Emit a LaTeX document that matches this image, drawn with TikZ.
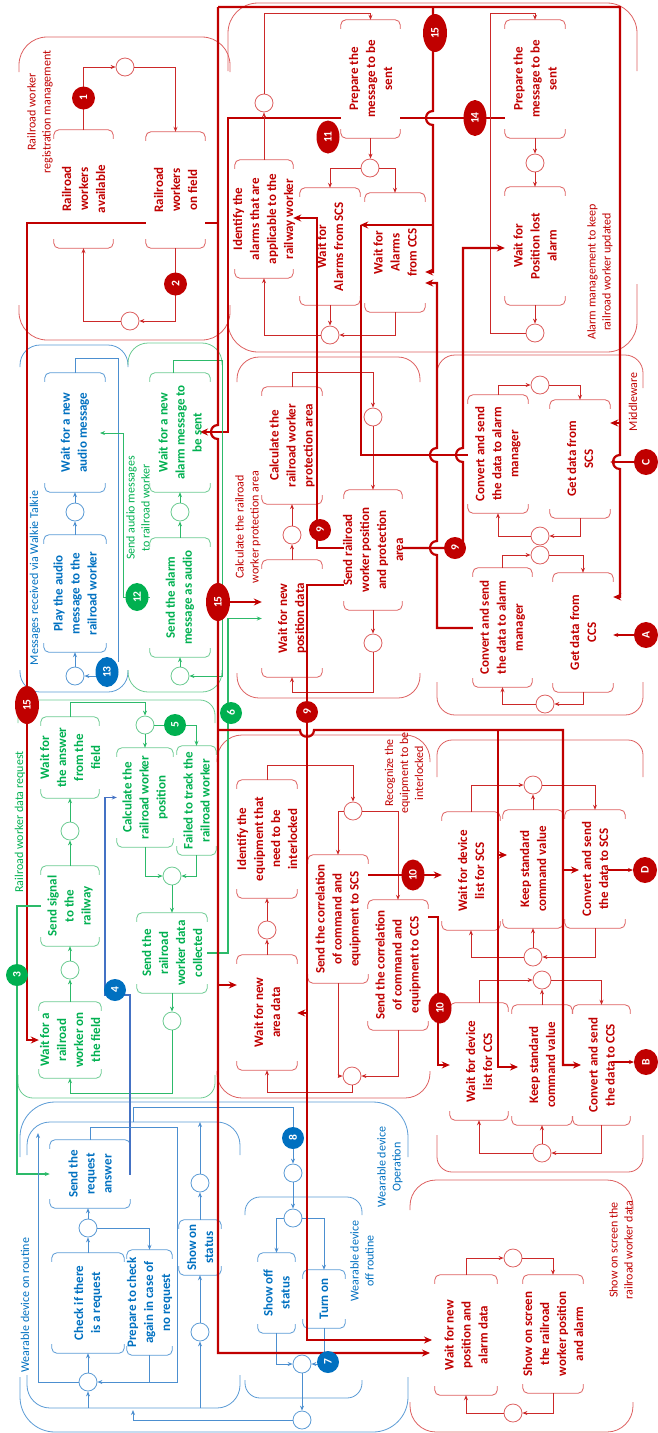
\documentclass[tikz,border=0pt]{standalone}
\usepackage{fontspec}
\setmainfont{Carlito}
\usetikzlibrary{arrows.meta,fit,shapes.geometric}
\pgfdeclarelayer{bg}
\pgfsetlayers{bg,main}
\definecolor{rT}{HTML}{C00000}
\definecolor{rL}{HTML}{CC2929}
\definecolor{rB}{HTML}{DD6060}
\definecolor{gT}{HTML}{00B050}
\definecolor{gL}{HTML}{2DBA6A}
\definecolor{gB}{HTML}{6CCB92}
\definecolor{bT}{HTML}{0070C0}
\definecolor{bL}{HTML}{4C8FD0}
\definecolor{bB}{HTML}{5B9BD5}
\definecolor{bD}{HTML}{4472C4}
\newcommand\bxfont{\fontsize{13}{17}\selectfont\bfseries}
\newcommand\lblfont{\fontsize{12}{15}\selectfont}
\newcommand\bdgfont{\fontsize{11.5}{12}\selectfont\bfseries}
\tikzset{
 thk/.style={draw=rT, line width=2.2pt},
 ta/.style={-{Stealth[length=8pt,width=7pt]}},
 cr/.style={draw=rL, line width=0.8pt},
 cg/.style={draw=gL, line width=0.8pt},
 cb/.style={draw=bL, line width=0.8pt},
 cbd/.style={draw=bD, line width=1.3pt},
 ca/.style={draw=rT, line width=1.2pt},
 >={Stealth[length=5pt,width=4pt]},
 place/.style={circle, draw=#1, fill=white, line width=0.8pt, minimum size=18pt, inner sep=0pt},
 lbl/.style={rotate=90, align=center, font=\lblfont, text=#1},
}
\newcommand\grp[7]{%
 \draw[#7, line width=0.8pt, rounded corners=#5pt] (#1,#2+#6) -- (#1,#2) -- (#3,#2) -- (#3,#2+#6);
 \draw[#7, line width=0.8pt, rounded corners=#5pt] (#1,#4-#6) -- (#1,#4) -- (#3,#4) -- (#3,#4-#6);}
\newcommand\bx[8][none]{%
 \node[fit={(#3,#4) (#5,#6)}, inner sep=0pt, fill=#1] (#2) {};
 \node[rotate=90, align=center, font=\bxfont, text=#7T, inner sep=0pt] (#2-t) at (#2.center) {#8};
 \draw[#7B, line width=0.8pt, rounded corners=5pt] ([yshift=-9pt]#2.north west) |- (#2.north east) -- ([yshift=-9pt]#2.north east);
 \draw[#7B, line width=0.8pt, rounded corners=5pt] ([yshift=9pt]#2.south west) |- (#2.south east) -- ([yshift=9pt]#2.south east);}
\newcommand\bdg[7]{%
 \node[ellipse, fill=#4, minimum width=#6pt, minimum height=#5pt, inner sep=0pt, text=white, font=\bdgfont, rotate=90] (#1) at (#2,#3) {#7};}
\begin{document}
\begin{tikzpicture}[x=1pt,y=-1pt]
\useasboundingbox (0,0) rectangle (657,1433);
\begin{pgfonlayer}{bg}
\grp{19}{37}{230}{340}{28}{35}{rB}
\grp{228}{3}{637}{352}{30}{68}{rB}
\grp{20}{345}{128}{692}{20}{22}{bB}
\grp{128}{343}{222}{692}{20}{22}{gB}
\grp{237}{357}{420}{698}{22}{25}{rB}
\grp{437}{355}{643}{715}{18}{33}{rB}
\grp{18}{700}{215}{1098}{15}{23}{gB}
\grp{217}{735}{430}{1098}{25}{27}{rB}
\grp{437}{740}{643}{1172}{15}{37}{rB}
\grp{20}{1102}{408}{1432}{35}{55}{bB}
\grp{27}{1122}{240}{1408}{23}{33}{bB}
\grp{245}{1197}{362}{1398}{15}{18}{bB}
\grp{410}{1180}{633}{1432}{26}{30}{rB}
\end{pgfonlayer}
% labels
\node[lbl=rT] (lreg) at (40,112) {Railroad worker\\registration management};
\node[lbl=rT] (lalarm) at (600,272) {Alarm management to keep\\railroad worker updated};
\node[lbl=bT] (lwalk) at (35,578) {Messages received via Walkie Talkie};
\node[lbl=gT] (laud) at (138,508) {Send audio messages\\to railroad worker};
\node[lbl=rT] (lcalc) at (248,527) {Calculate the railroad\\worker protection area};
\node[lbl=rT] (lmid) at (633,402) {Middleware};
\node[lbl=gT] (lreq) at (20,822) {Railroad worker data request};
\node[lbl=rT] (lrec) at (404,773) {Recognize the\\equipment to be\\interlocked};
\node[lbl=bT] (lrout) at (25,1305) {Wearable device on routine};
\node[lbl=bT] (lop) at (390,1167) {Wearable device\\Operation};
\node[lbl=bT] (loff) at (362,1261) {Wearable device\\off routine};
\node[lbl=rT] (lscr) at (621,1250) {Show on screen the\\railroad worker data};
% boxes
\bx{rwa}{54}{130}{113}{248}{r}{Railroad\\workers\\available}
\bx[white]{rwf}{146}{132}{205}{248}{r}{Railroad\\workers\\on field}
\bx{idal}{235}{160}{293}{278}{r}{Identify the\\alarms that are\\applicable to the\\railway worker}
\bx[white]{prepA}{341}{20}{400}{138}{r}{Prepare the\\message to be\\sent}
\bx{wscs}{300}{188}{360}{305}{r}{Wait for\\Alarms from SCS}
\bx{wccs}{365}{193}{425}{312}{r}{Wait for\\Alarms\\from CCS}
\bx{prepB}{505}{20}{565}{138}{r}{Prepare the\\message to be\\sent}
\bx{wpla}{505}{187}{565}{305}{r}{Wait for\\Position lost\\alarm}
\bx{wnam}{45}{373}{105}{492}{b}{Wait for a new\\audio message}
\bx{play}{44}{535}{106}{652}{b}{Play the audio\\message to the\\railroad worker}
\bx{wnal}{150}{373}{210}{492}{g}{Wait for a new\\alarm message to\\be sent}
\bx{sala}{150}{538}{210}{657}{g}{Send the alarm\\message as audio}
\bx{calp}{262}{387}{322}{504}{r}{Calculate the\\railroad worker\\protection area}
\bx{wnpd}{262}{560}{322}{677}{r}{Wait for new\\position data}
\bx{srwp}{344}{490}{402}{610}{r}{Send railroad\\worker position\\and protection\\area}
\bx{cvs}{468}{395}{528}{513}{r}{Convert and send\\the data to alarm\\manager}
\bx{gscs}{550}{400}{610}{518}{r}{Get data from\\SCS}
\bx{cvc}{473}{568}{532}{687}{r}{Convert and send\\the data to alarm\\manager}
\bx{gccs}{553}{573}{613}{692}{r}{Get data from\\CCS}
\bx{wans}{41}{717}{99}{798}{g}{Wait for\\the answer\\from the\\field}
\bx{ssig}{41}{866}{99}{946}{g}{Send signal\\to the\\railway}
\bx{wrw}{39}{1002}{101}{1078}{g}{Wait for a\\railroad\\worker on\\the field}
\bx{calc}{117}{748}{173}{847}{g}{Calculate the\\railroad worker\\position}
\bx{fail}{177}{746}{216}{855}{g}{Failed to track the\\railroad worker}
\bx{sdc}{137}{913}{207}{993}{g}{Send the\\railroad\\worker data\\collected}
\bx{wnad}{237}{955}{297}{1070}{r}{Wait for new\\area data}
\bx{ideq}{237}{780}{297}{898}{r}{Identify the\\equipment that\\need to be\\interlocked}
\bx{scs}{308}{855}{368}{983}{r}{Send the correlation\\of command and\\equipment to SCS}
\bx{sccs}{368}{900}{428}{1030}{r}{Send the correlation\\of command and\\equipment to CCS}
\bx{wdls}{442}{812}{500}{930}{r}{Wait for device\\list for SCS}
\bx{kscs}{503}{810}{563}{928}{r}{Keep standard\\command value}
\bx{cscs}{565}{810}{625}{928}{r}{Convert and send\\the data to SCS}
\bx{wdlc}{450}{1003}{508}{1120}{r}{Wait for device\\list for CCS}
\bx{kccs}{512}{1005}{572}{1125}{r}{Keep standard\\command value}
\bx{cccs}{573}{1005}{630}{1125}{r}{Convert and send\\the data to CCS}
\bx{sra}{50}{1140}{130}{1208}{b}{Send the\\request\\answer}
\bx{chk}{52}{1253}{124}{1353}{b}{Check if there\\is a request}
\bx{prc}{127}{1250}{172}{1355}{b}{Prepare to check\\again in case of\\no request}
\bx{sos}{179}{1220}{221}{1275}{b}{Show on\\status}
\bx{sof}{258}{1253}{295}{1333}{b}{Show off\\status}
\bx{ton}{303}{1270}{345}{1328}{b}{Turn on}
\bx{wnpa}{435}{1275}{497}{1395}{r}{Wait for new\\position and\\alarm data}
\bx{sosr}{523}{1275}{583}{1393}{r}{Show on screen\\the railroad\\worker position\\and alarm}
% places
\node[place=rB] (p1) at (125,67) {};
\node[place=rB] (p2) at (130,321) {};
\node[place=rB] (pa1) at (264,103) {};
\node[place=rB] (pa2) at (370,168) {};
\node[place=rB] (pa3) at (330,335) {};
\node[place=rB] (pa4) at (535,163) {};
\node[place=rB] (pa5) at (535,333) {};
\node[place=bB] (pw1) at (75,512) {};
\node[place=bB] (pw2) at (75,676) {};
\node[place=gB] (pg1) at (180,512) {};
\node[place=gB] (pg2) at (180,676) {};
\node[place=rB] (pc1) at (292,535) {};
\node[place=rB] (pc2) at (373,417) {};
\node[place=rB] (pc3) at (373,643) {};
\node[place=rB] (pm1) at (540,385) {};
\node[place=rB] (pm2) at (540,536) {};
\node[place=rB] (pm3) at (540,555) {};
\node[place=rB] (pm4) at (545,704) {};
\node[place=gB] (pr1) at (70,831) {};
\node[place=gB] (pr2) at (70,970) {};
\node[place=gB] (pr3) at (145,725) {};
\node[place=gB] (pr4) at (172,876) {};
\node[place=gB] (pr5) at (172,1021) {};
\node[place=rB] (pi1) at (267,930) {};
\node[place=rB] (pi2) at (353,811) {};
\node[place=rB] (pi3) at (352,1076) {};
\node[place=rB] (pk1) at (533,785) {};
\node[place=rB] (pk2) at (533,957) {};
\node[place=rB] (pk3) at (542,980) {};
\node[place=rB] (pk4) at (542,1153) {};
\node[place=bB] (pb1) at (88,1228) {};
\node[place=bB] (pb2) at (88,1382) {};
\node[place=bB] (pb3) at (200,1332) {};
\node[place=bB] (pb4) at (200,1183) {};
\node[place=bB] (pb5) at (302,1364) {};
\node[place=bB] (pb6) at (302,1420) {};
\node[place=bB] (pb7) at (293,1173) {};
\node[place=bB] (pb8) at (293,1218) {};
\node[place=rB] (ps1) at (513,1258) {};
\node[place=rB] (ps2) at (513,1413) {};
% registration
\draw[cr,->] (rwa.north) |- (p1.west);
\draw[cr,->] (p1.east) -| (rwf.north);
\draw[cr,->] (rwf.south) |- (p2.east);
\draw[cr,->] (p2.west) -| (rwa.south);
% alarm
\draw[cr,->] (idal.north) -- (pa1.south);
\draw[cr,->] (pa1.north) -- (264,13) -| (prepA.north);
\draw[cr,->] (prepA.south) -- (prepA.south |- pa2.north);
\draw[cr,->] (pa2.west) -| (wscs.north);
\draw[cr,->] (pa2.east) -| (wccs.north);
\draw[cr,->] (wscs.south) -- (pa3.north);
\draw[cr,->] (wccs.south) |- (pa3.east);
\draw[cr,->] (pa3.west) -| (idal.south);
\draw[cr,->] (prepB.south) -- (pa4.north);
\draw[cr,->] (pa4.south) -- (wpla.north);
\draw[cr,->] (wpla.south) -- (pa5.north);
\draw[cr,->] (pa5.west) -- (490,333) -- (490,13) -| (prepB.north);
% walkie
\draw[cb,->] (play.north) -- (pw1.south);
\draw[cb,->] (pw1.north) -- (wnam.south);
\draw[cb,->] (pw2.north) -- (play.south);
\draw[cb,->] (107,676) -- (pw2.east);
\draw[cb] (wnam.north) -- (75,358) -- (118,358) -- (118,662);
% audio
\draw[cg,->] (sala.north) -- (pg1.south);
\draw[cg,->] (pg1.north) -- (wnal.south);
\draw[cg,->] (pg2.north) -- (sala.south);
\draw[cg,->] (173,373) -- (173,360) -- (222,360) -- (222,676) -- (pg2.east);
\draw[cg] (sala.west) -- (137,597.5);
\draw[cg,->] (137,597.5) -- (123,597.5) -- (123,433) -- (100,433);
% calc protection
\draw[cr,->] (wnpd.north) -- (pc1.south);
\draw[cr,->] (pc1.north) -- (calp.south);
\draw[cr,->] (calp.north) -- (292,372) -| (pc2.north);
\draw[cr,->] (pc2.south) -- (srwp.north);
\draw[cr,->] (srwp.south) -- (pc3.north);
\draw[cr,->] (pc3.south) -- (373,692) -| (wnpd.south);
% middleware
\draw[cr,->] (cvs.north) |- (pm1.west);
\draw[cr,->] (pm1.east) -| (gscs.north);
\draw[cr,->] (gscs.south) |- (pm2.east);
\draw[cr,->] (pm2.west) -| (cvs.south);
\draw[cr,->] (cvc.north) |- (pm3.west);
\draw[cr,->] (pm3.east) -| (gccs.north);
\draw[cr,->] (gccs.south) |- (pm4.east);
\draw[cr,->] (pm4.west) -| (cvc.south);
% request
\draw[cg,->] (ssig.north) -- (pr1.south);
\draw[cg,->] (pr1.north) -- (wans.south);
\draw[cg,->] (wrw.north) -- (pr2.south);
\draw[cg,->] (pr2.north) -- (ssig.south);
\draw[cg,->] (wans.north) -- (70,702) -| (pr3.north);
\draw[cg,->] (pr3.south) -- (calc.north);
\draw[cg,->] (pr3.east) -| (fail.north);
\draw[cg,->] (calc.south) |- (pr4.west);
\draw[cg,->] (fail.south) |- (pr4.east);
\draw[cg,->] (pr4.south) -- (sdc.north);
\draw[cg,->] (sdc.south) -- (pr5.north);
\draw[cg,->] (pr5.south) -- (172,1093) -| (wrw.south);
\draw[cg,line width=1.2pt,->] (ssig.west) -- (17,906) |- (sra.west);
\draw[cg,line width=1.2pt,->] (sdc.east) -- (228,953) |- (wnpd.west);
\draw[cbd,->] (sra.east) -- (130,1174) -- (130,995) -- (105,995) |- (calc.west);
% interlock
\draw[cr,->] (wnad.north) -- (pi1.south);
\draw[cr,->] (pi1.north) -- (ideq.south);
\draw[cr,->] (ideq.north) -- (267,765) -| (pi2.north);
\draw[cr,->] (pi2.west) -| (scs.north);
\draw[cr,->] (pi2.east) -| (sccs.north);
\draw[cr,->] (scs.south) |- (pi3.west);
\draw[cr,->] (sccs.south) |- (pi3.east);
\draw[cr,->] (pi3.south) -- (352,1092) -| (wnad.south);
% keep
\draw[cr,->] (wdls.north) |- (pk1.west);
\draw[cr,->] (kscs.north) -- (pk1.south);
\draw[cr,->] (pk1.east) -| (cscs.north);
\draw[cr,->] (cscs.south) |- (pk2.east);
\draw[cr,->] (pk2.north) -- (kscs.south);
\draw[cr,->] (pk2.west) -| (wdls.south);
\draw[cr,->] (wdlc.north) |- (pk3.west);
\draw[cr,->] (kccs.north) -- (pk3.south);
\draw[cr,->] (pk3.east) -| (cccs.north);
\draw[cr,->] (cccs.south) |- (pk4.east);
\draw[cr,->] (pk4.north) -- (kccs.south);
\draw[cr,->] (pk4.west) -| (wdlc.south);
% wearable
\draw[cb,->] (chk.north) -- (pb1.south);
\draw[cb,->] (pb1.north) -- (pb1.north |- sra.south);
\draw[cb,->] (pb1.east) -| (prc.north);
\draw[cb,->] (pb2.north) -- (chk.south);
\draw[cb,->] (sra.north) -- (90,1127) -- (177,1127) -- (177,1382) -- (pb2.east);
\draw[cb] (prc.south) -- (prc.south |- pb2);
\draw[cb,->] (pb2.west) -- (38,1382) -- (38,1133);
\draw[cb,->] (88,1408) -- (pb2.south);
\draw[cb,->] (200,1408) -- (pb3.south);
\draw[cb,->] (pb3.north) -- (sos.south);
\draw[cb,->] (sos.north) -- (pb4.south);
\draw[cb,->] (pb4.north) -- (200,1122);
\draw[cb,->] (pb6.west) -- (133,1420) -- (133,1410);
\draw[cb] (133,1122) -- (133,1107) -- (293,1107) -- (293,1138);
\draw[cb,->] (293,1138) -- (pb7.north);
\draw[cb,->] (pb7.south) -- (pb8.north);
\draw[cb,->] (pb8.west) -| (sof.north);
\draw[cb,->] (pb8.east) -| (ton.north);
\draw[cb,->] (sof.south) |- (pb5.west);
\draw[cb,->] (ton.south) -- (324,1364) -- (pb5.east);
\draw[cb,->] (pb5.south) -- (pb6.north);
% screen
\draw[cr,->] (wnpa.north) |- (ps1.west);
\draw[cr,->] (ps1.east) -| (sosr.north);
\draw[cr,->] (sosr.south) |- (ps2.east);
\draw[cr,->] (ps2.west) -| (wnpa.south);
% thick red lines behind boxes
\begin{pgfonlayer}{bg}
\draw[thk,ta] (prepB.west |- 0,118) -- (228,118) -- (228,432) -- (200,432);
\draw[thk,ta] (218,223) -- (27,223) -- (27,1040) -- (wrw.west |- 0,1040);
\end{pgfonlayer}
% thick red lines on top
\draw[thk,ta] (218,7) -- (620,7) -- (620,455) .. controls (610.7,455) and (610.7,469) .. (620,469) -- (620,597) -- (gccs.east |- 0,597);
\draw[thk,ta] (620,423) -- (gscs.east |- 0,423);
\draw[thk,ta] (218,7) -- (218,425) .. controls (208.7,425) and (208.7,439) .. (218,439) -- (218,1353) -- (430,1353);
\draw[thk,ta] (218,602) -- (wnpd.west |- 0,602);
\draw[thk,ta] (218,985) -- (wnad.west |- 0,985);
\draw[thk,ta] (218,730) -- (300,730) .. controls (300,739) and (314,739) .. (314,730) -- (563,730) -- (563,1065) -- (581,1065);
\draw[thk,ta] (563,870) -- (579,870);
\draw[thk,ta] (498,730) -- (498,1067) -- (518,1067);
\draw[thk,ta] (498,855) -- (507,855);
\draw[thk,ta] (433,7) -- (433,111) .. controls (423.7,111) and (423.7,125) .. (433,125) -- (433,272) -- (wccs.east |- 0,272);
\draw[thk,ta] (433,225) -- (wscs.east |- 0,225);
\draw[thk,ta] (cvc.west |- 0,628) -- (437,628) -- (437,555) .. controls (427.7,555) and (427.7,541) .. (437,541) -- (437,462) .. controls (427.7,462) and (427.7,448) .. (437,448) -- (437,283) -- (wccs.east |- 0,283);
\draw[thk] (cvs.west |- 0,455) -- (361,455) -- (361,225);
\draw[thk,ta] (srwp.east |- 0,548) -- (463,548) -- (463,462) .. controls (453.7,462) and (453.7,448) .. (463,448) -- (463,248) -- (wpla.west |- 0,248);
\draw[thk,ta] (srwp.west |- 0,548) -- (317,548) -- (317,218) -- (idal.east |- 0,218);
\draw[thk,ta] (srwp.west |- 0,585) -- (307,585) -- (307,1340) -- (432,1340);
\draw[thk,ta] (307,1013) -- (wnad.east |- 0,1013);
\draw[thk,ta] (scs.east |- 0,875) -- (wdls.west |- 0,875);
\draw[thk,ta] (sccs.east |- 0,917) -- (438,917) -- (438,1065) -- (wdlc.west |- 0,1065);
\draw[ca,->] (634,635) -- (gccs.east |- 0,635);
\draw[ca,->] (634,462) -- (gscs.east |- 0,462);
\draw[ca,->] (608,870) -- (633,870);
\draw[ca,->] (612,1062) -- (634,1062);
% badges
\bdg{b1}{83.5}{98}{rT}{23}{23}{1}
\bdg{b2}{175.5}{284}{rT}{23}{23}{2}
\bdg{b3}{17}{975}{gT}{22}{22}{3}
\bdg{b4}{115}{990}{bT}{22}{22}{4}
\bdg{b5}{175}{725}{gT}{22}{22}{5}
\bdg{b6}{231}{713}{gT}{22}{22}{6}
\bdg{b7}{328}{1362}{bT}{22}{22}{7}
\bdg{b8}{293}{1138}{bT}{22}{22}{8}
\bdg{b9a}{320}{530}{rT}{22}{22}{9}
\bdg{b9b}{455}{548}{rT}{22}{22}{9}
\bdg{b9c}{307}{712}{rT}{22}{22}{9}
\bdg{b10a}{413}{875}{rT}{23}{31}{10}
\bdg{b10b}{440}{1008}{rT}{23}{31}{10}
\bdg{b11}{328}{137}{rT}{23}{33}{11}
\bdg{b12}{137}{597}{gT}{23}{28}{12}
\bdg{b13}{107}{672}{bT}{23}{30}{13}
\bdg{b14}{475}{118}{rT}{23}{36}{14}
\bdg{b15a}{435}{33}{rT}{24}{38}{15}
\bdg{b15b}{218}{602}{rT}{24}{38}{15}
\bdg{b15c}{27}{705}{rT}{24}{38}{15}
\bdg{bA}{646}{635}{rT}{24}{26}{A}
\bdg{bB}{646}{1062}{rT}{24}{26}{B}
\bdg{bC}{646}{462}{rT}{24}{26}{C}
\bdg{bD}{645}{870}{rT}{24}{26}{D}
\end{tikzpicture}
\end{document}
